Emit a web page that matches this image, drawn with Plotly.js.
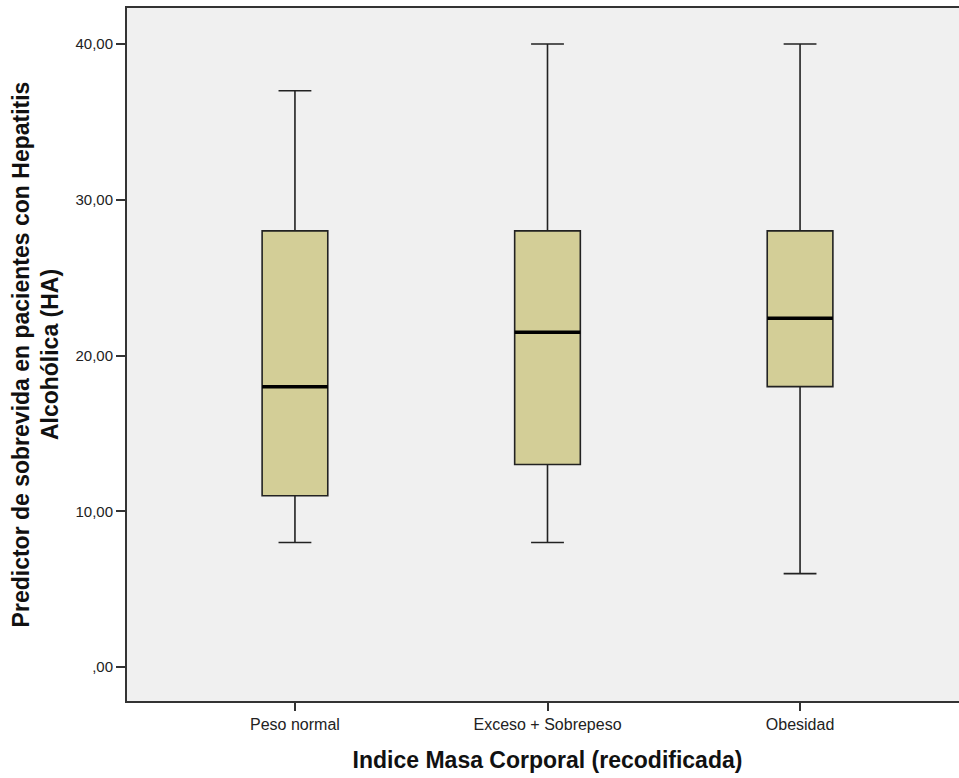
<!DOCTYPE html>
<html><head><meta charset="utf-8">
<script src="https://cdn.plot.ly/plotly-3.0.1.min.js"></script>
<style>html,body{margin:0;padding:0;overflow:hidden;background:#fff;width:959px;height:778px}</style>
</head><body><div id="chart"></div>
<script>
const categories = ["Peso normal", "Exceso + Sobrepeso", "Obesidad"];
const lowerWhisker = [8, 8, 6];
const q1 = [11, 13, 18];
const median = [18, 21.5, 22.4];
const q3 = [28, 28, 28];
const upperWhisker = [37, 40, 40];
const yTickVals = [0, 10, 20, 30, 40];
const yTickText = [",00", "10,00", "20,00", "30,00", "40,00"];

const pos = categories.map((c, i) => i);
const boxWidth = 0.26;

const traces = [{
  type: "box",
  x: pos,
  q1: q1, median: median, q3: q3,
  lowerfence: lowerWhisker, upperfence: upperWhisker,
  width: boxWidth,
  whiskerwidth: 0.5,
  fillcolor: "#d3ce97",
  line: {color: "#222222", width: 1.6},
  boxpoints: false,
  hoverinfo: "skip",
  showlegend: false
}];

// thicker median lines
const mx = [], my = [];
pos.forEach((p, i) => { mx.push(p - boxWidth/2, p + boxWidth/2, null); my.push(median[i], median[i], null); });
traces.push({type: "scatter", mode: "lines", x: mx, y: my, line: {color: "#000", width: 3.5}, hoverinfo: "skip", showlegend: false});

const layout = {
  width: 970, height: 778,
  margin: {l: 127, r: 2, t: 8, b: 77},
  paper_bgcolor: "#ffffff",
  plot_bgcolor: "#f0f0f0",
  font: {family: "Liberation Sans, Arial, sans-serif", color: "#222"},
  xaxis: {
    range: [-0.665, 2.665],
    tickvals: pos, ticktext: categories,
    ticks: "outside", ticklen: 8, tickwidth: 2, tickcolor: "#333",
    showline: true, linecolor: "#333", linewidth: 2, mirror: true,
    showgrid: false, zeroline: false,
    tickfont: {size: 16, color: "#222"},
    title: {text: "Indice Masa Corporal (recodificada)", font: {size: 23, weight: "bold", color: "#111"}, standoff: 20}
  },
  yaxis: {
    range: [-2.18, 42.31],
    tickvals: yTickVals, ticktext: yTickText,
    ticks: "outside", ticklen: 9, tickwidth: 2, tickcolor: "#333",
    showline: true, linecolor: "#333", linewidth: 2,
    showgrid: false, zeroline: false,
    tickfont: {size: 15, color: "#222"},
    title: {text: "Predictor de sobrevida en pacientes con Hepatitis<br>Alcohólica (HA)", font: {size: 23, weight: "bold", color: "#111"}, standoff: 10}
  }
};

Plotly.newPlot("chart", traces, layout, {displayModeBar: false, staticPlot: true});
</script></body></html>
